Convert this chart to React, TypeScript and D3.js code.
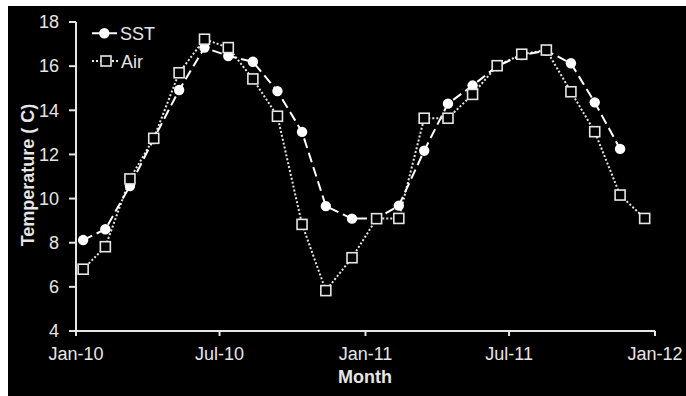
import React from "react";
import * as d3 from "d3";

// Sampling dates (one reading per month)
const sampleDates = [
  "2010-01-10", "2010-02-07", "2010-03-10", "2010-04-09", "2010-05-11", "2010-06-12",
  "2010-07-12", "2010-08-12", "2010-09-12", "2010-10-13", "2010-11-12", "2010-12-15",
  "2011-01-15", "2011-02-12", "2011-03-16", "2011-04-15", "2011-05-16", "2011-06-16",
  "2011-07-17", "2011-08-17", "2011-09-17", "2011-10-17", "2011-11-18", "2011-12-19",
];

// Sea surface temperature (ends Nov-11)
const sstValues = [
  8.12, 8.61, 10.57, 12.7, 14.92, 16.84, 16.46, 16.2, 14.87, 13.02, 9.66, 9.09,
  9.1, 9.68, 12.17, 14.3, 15.12, 16.0, 16.5, 16.7, 16.13, 14.36, 12.25,
];

// Air temperature
const airValues = [
  6.8, 7.82, 10.89, 12.73, 15.7, 17.22, 16.84, 15.42, 13.73, 8.83, 5.83, 7.32,
  9.09, 9.1, 13.64, 13.64, 14.72, 16.02, 16.54, 16.73, 14.84, 13.03, 10.16, 9.1,
];

const yTicks = [4, 6, 8, 10, 12, 14, 16, 18];
const xTickDates = ["2010-01-01", "2010-07-01", "2011-01-01", "2011-07-01", "2012-01-01"];
const xTickLabels = ["Jan-10", "Jul-10", "Jan-11", "Jul-11", "Jan-12"];

const W = 678;
const H = 390;
const plot = { left: 68, right: 647, top: 16, bottom: 325 };
const FG = "#e6e6e6";
const FONT = "'Liberation Sans', Arial, sans-serif";

export default function App() {
  const parse = d3.timeParse("%Y-%m-%d");
  const dates = sampleDates.map((s) => parse(s) as Date);

  const x = d3
    .scaleTime()
    .domain([parse("2010-01-01") as Date, parse("2012-01-01") as Date])
    .range([plot.left, plot.right]);
  const y = d3.scaleLinear().domain([4, 18]).range([plot.bottom, plot.top]);

  const sst = sstValues.map((v, i) => ({ d: dates[i], v }));
  const air = airValues.map((v, i) => ({ d: dates[i], v }));

  const line = d3
    .line<{ d: Date; v: number }>()
    .x((p) => x(p.d))
    .y((p) => y(p.v));

  const sq = 10;

  return (
    <svg
      width={W}
      height={H}
      style={{ position: "absolute", left: 8, top: 6, display: "block", background: "#000" }}
      fontFamily={FONT}
    >
      <rect x={0} y={0} width={W} height={H} fill="#000" />

      {/* axes */}
      <line x1={plot.left} x2={plot.left} y1={plot.top} y2={plot.bottom} stroke={FG} strokeWidth={2} />
      <line x1={plot.left} x2={plot.right} y1={plot.bottom} y2={plot.bottom} stroke={FG} strokeWidth={2} />

      {yTicks.map((t) => (
        <g key={"y" + t}>
          <line x1={plot.left - 7} x2={plot.left} y1={y(t)} y2={y(t)} stroke={FG} strokeWidth={2} />
          <text x={51} y={y(t)} dy="0.35em" textAnchor="end" fontSize={18} fill={FG}>
            {t}
          </text>
        </g>
      ))}

      {xTickDates.map((s, i) => {
        const xx = x(parse(s) as Date);
        return (
          <g key={"x" + s}>
            <line x1={xx} x2={xx} y1={plot.bottom} y2={plot.bottom + 5} stroke={FG} strokeWidth={2} />
            <text x={xx} y={354} textAnchor="middle" fontSize={18} fill={FG}>
              {xTickLabels[i]}
            </text>
          </g>
        );
      })}

      <text x={357} y={377} textAnchor="middle" fontSize={18} fontWeight="bold" fill={FG}>
        Month
      </text>
      <text
        transform={`translate(25.5,169) rotate(-90)`}
        textAnchor="middle"
        fontSize={18}
        fontWeight="bold"
        fill={FG}
      >
        Temperature ( C)
      </text>

      {/* series lines */}
      <path d={line(air) || ""} fill="none" stroke={FG} strokeWidth={2} strokeDasharray="2,2" />
      <path d={line(sst) || ""} fill="none" stroke="#fff" strokeWidth={2} strokeDasharray="10,5" />

      {/* markers */}
      {sst.map((p, i) => (
        <circle key={"c" + i} cx={x(p.d)} cy={y(p.v)} r={5.2} fill="#fff" />
      ))}
      {air.map((p, i) => (
        <rect
          key={"s" + i}
          x={x(p.d) - sq / 2}
          y={y(p.v) - sq / 2}
          width={sq}
          height={sq}
          fill="#000"
          stroke={FG}
          strokeWidth={1.6}
        />
      ))}

      {/* legend */}
      <line x1={84} x2={110} y1={27.3} y2={27.3} stroke="#fff" strokeWidth={2} strokeDasharray="10,5" />
      <circle cx={96.3} cy={27.3} r={5.2} fill="#fff" />
      <text x={112} y={33.8} fontSize={18} fill={FG}>
        SST
      </text>
      <line x1={84} x2={112} y1={55} y2={55} stroke={FG} strokeWidth={2} strokeDasharray="2,2" />
      <rect x={98 - sq / 2} y={55 - sq / 2} width={sq} height={sq} fill="#000" stroke={FG} strokeWidth={1.6} />
      <text x={113} y={61.5} fontSize={18} fill={FG}>
        Air
      </text>
    </svg>
  );
}
